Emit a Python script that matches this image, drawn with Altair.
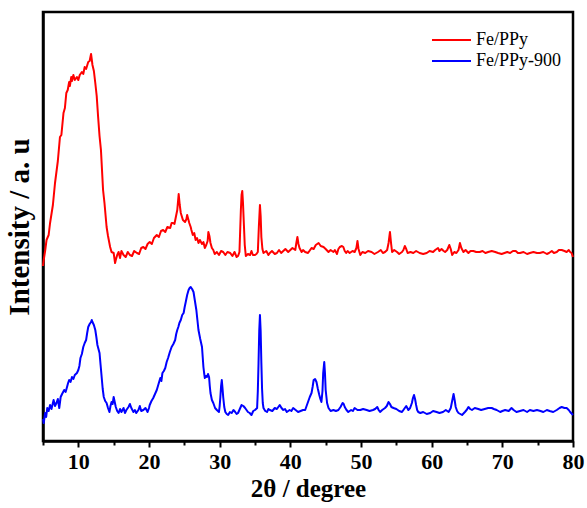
import altair as alt
import pandas as pd

# Digitised XRD patterns: (2theta in degree, intensity in arbitrary units)
fe_ppy = [
    (5.0,175),(5.1,181),(5.3,190),(5.5,201),(5.8,206),(6.0,218),(6.4,236),(6.7,258),(7.1,280),(7.4,304),
    (7.6,306),(7.9,328),(8.1,333),(8.3,348),(8.5,351),(8.7,359),(8.8,355),(9.0,364),(9.1,360),(9.3,366),
    (9.5,361),(9.8,364),(10.0,361),(10.2,366),(10.5,369),(10.7,367),(10.9,374),(11.1,372),(11.4,379),(11.6,380),
    (11.8,387),(12.0,376),(12.2,370),(12.4,358),(12.6,345),(12.8,324),(13.0,305),(13.2,291),(13.5,251),(13.7,238),
    (14.0,214),(14.2,205),(14.5,194),(14.7,189),(15.0,188),(15.2,178),(15.3,181),(15.5,186),(15.7,189),(15.9,183),
    (16.1,190),(16.4,186),(16.7,184),(17.0,189),(17.3,186),(17.6,185),(17.9,190),(18.3,188),(18.6,187),(18.9,193),
    (19.2,194),(19.5,192),(19.8,197),(20.1,199),(20.4,197),(20.7,203),(21.1,206),(21.4,204),(21.7,210),(22.0,211),
    (22.3,209),(22.6,214),(23.0,213),(23.2,218),(23.4,218),(23.6,217),(23.8,224),(24.0,231),(24.2,247),(24.35,236),
    (24.5,228),(24.8,221),(25.1,219),(25.3,222),(25.4,226),(25.55,222),(25.7,218),(25.9,214),(26.0,211),(26.2,206),
    (26.4,208),(26.6,201),(26.8,203),(27.0,198),(27.2,201),(27.5,197),(27.7,199),(27.9,193),(28.1,196),(28.3,200),
    (28.4,209),(28.55,205),(28.7,198),(28.9,193),(29.1,191),(29.3,187),(29.6,189),(29.9,186),(30.2,190),(30.5,189),
    (30.8,186),(31.1,189),(31.5,188),(31.8,185),(32.1,189),(32.4,184),(32.6,185),(32.8,189),(33.0,231),(33.1,246),
    (33.2,250),(33.3,238),(33.4,221),(33.55,196),(33.7,185),(34.0,187),(34.3,186),(34.5,190),(34.7,186),(35.0,186),
    (35.2,187),(35.4,189),(35.55,215),(35.7,236),(35.8,225),(35.9,204),(36.05,192),(36.2,188),(36.6,190),(36.9,186),
    (37.1,188),(37.4,190),(37.8,187),(38.1,188),(38.4,191),(38.7,188),(39.0,190),(39.3,192),(39.7,189),(40.0,191),
    (40.3,193),(40.7,191),(40.85,198),(41.0,204),(41.15,197),(41.3,193),(41.6,189),(41.8,191),(42.1,189),(42.5,188),
    (42.8,191),(43.0,193),(43.3,192),(43.6,196),(44.0,198),(44.3,195),(44.7,194),(45.0,192),(45.4,189),(45.7,191),
    (46.1,189),(46.3,191),(46.6,187),(46.8,192),(47.0,194),(47.3,195),(47.5,194),(47.7,190),(47.9,188),(48.1,190),
    (48.4,188),(48.8,190),(49.1,189),(49.35,193),(49.5,200),(49.65,192),(49.9,186),(50.2,189),(50.6,188),(51.0,190),
    (51.5,189),(51.9,187),(52.4,189),(52.8,191),(53.1,188),(53.4,189),(53.7,191),(53.9,198),(54.1,209),(54.25,198),
    (54.4,189),(54.7,191),(55.1,189),(55.4,187),(55.8,189),(56.0,191),(56.2,195),(56.4,192),(56.6,188),(57.0,189),
    (57.4,188),(57.8,190),(58.3,188),(58.8,187),(59.3,188),(59.7,190),(60.2,189),(60.5,191),(60.9,193),(61.1,190),
    (61.4,192),(61.7,190),(61.9,189),(62.2,191),(62.5,196),(62.7,192),(62.9,186),(63.2,189),(63.5,188),(63.8,191),
    (64.0,198),(64.2,193),(64.5,189),(64.8,191),(65.2,188),(65.5,190),(65.9,190),(66.3,189),(66.8,189),(67.2,190),
    (67.6,188),(68.0,189),(68.5,190),(69.0,189),(69.4,188),(69.9,187),(70.3,188),(70.7,189),(71.1,188),(71.5,190),
    (71.9,190),(72.2,188),(72.5,188),(73.0,189),(73.5,187),(73.9,188),(74.4,189),(74.9,188),(75.3,188),(75.8,189),
    (76.3,187),(76.6,188),(77.0,190),(77.3,188),(77.7,189),(78.0,191),(78.4,191),(78.8,190),(79.1,189),(79.4,191),
    (79.6,189),(79.8,188),(80.0,184),
]

fe_ppy_900 = [
    (5.0,22),(5.1,18),(5.3,28),(5.45,24),(5.6,33),(5.8,30),(6.0,36),(6.2,32),(6.5,41),(6.7,35),
    (6.9,38),(7.1,42),(7.3,33),(7.5,44),(7.7,47),(8.0,51),(8.2,49),(8.4,54),(8.55,58),(8.7,61),
    (8.9,59),(9.1,64),(9.3,62),(9.5,66),(9.8,68),(10.0,71),(10.15,75),(10.3,83),(10.5,87),(10.7,94),
    (10.9,98),(11.1,101),(11.25,108),(11.4,114),(11.6,117),(11.8,119),(11.9,121),(12.0,119),(12.2,116),(12.4,111),
    (12.55,104),(12.7,96),(12.85,92),(13.0,88),(13.15,76),(13.3,64),(13.45,52),(13.6,44),(13.8,40),(14.0,38),
    (14.2,33),(14.4,29),(14.55,35),(14.7,39),(14.85,37),(15.0,44),(15.15,39),(15.3,34),(15.5,30),(15.7,28),
    (15.9,32),(16.1,29),(16.4,33),(16.6,28),(16.8,31),(17.1,34),(17.3,37),(17.5,33),(17.8,29),(18.0,31),
    (18.2,28),(18.5,31),(18.7,35),(18.9,30),(19.2,31),(19.5,33),(19.8,29),(20.0,33),(20.1,36),(20.35,40),
    (20.6,43),(20.85,47),(21.1,51),(21.35,57),(21.6,63),(21.75,60),(21.9,68),(22.1,70),(22.3,73),(22.5,79),
    (22.7,83),(22.95,89),(23.2,94),(23.45,97),(23.7,101),(23.85,107),(24.0,111),(24.15,114),(24.3,118),(24.5,121),
    (24.7,126),(24.9,128),(25.05,134),(25.2,139),(25.4,146),(25.6,151),(25.75,153),(25.9,154),(26.1,152),(26.3,149),
    (26.5,140),(26.7,131),(26.85,121),(27.0,111),(27.25,102),(27.5,94),(27.6,84),(27.7,74),(27.8,68),(27.9,63),
    (28.05,65),(28.2,64),(28.35,67),(28.5,64),(28.6,55),(28.7,48),(28.9,41),(29.1,38),(29.35,33),(29.6,31),
    (29.75,30),(29.9,29),(30.0,35),(30.1,44),(30.2,55),(30.3,61),(30.4,53),(30.5,44),(30.65,34),(30.8,29),
    (31.0,27),(31.2,26),(31.45,29),(31.7,28),(31.95,31),(32.2,29),(32.4,27),(32.6,28),(32.85,32),(33.1,36),
    (33.35,35),(33.6,33),(33.8,31),(34.0,29),(34.25,28),(34.5,26),(34.75,30),(35.0,31),(35.15,32),(35.3,33),
    (35.4,50),(35.5,78),(35.6,110),(35.7,126),(35.8,110),(35.9,78),(36.0,52),(36.1,38),(36.2,33),(36.45,30),
    (36.7,29),(36.9,32),(37.1,31),(37.45,30),(37.8,33),(38.1,32),(38.3,34),(38.5,36),(38.75,33),(39.0,31),
    (39.25,32),(39.5,29),(39.9,31),(40.15,30),(40.4,33),(40.75,31),(41.1,29),(41.45,30),(41.8,31),(42.1,31),
    (42.3,35),(42.5,39),(42.75,44),(43.0,48),(43.15,54),(43.3,61),(43.5,62),(43.7,59),(43.9,52),(44.1,46),
    (44.25,42),(44.4,39),(44.55,50),(44.65,68),(44.8,79),(44.9,68),(45.0,51),(45.2,38),(45.4,33),(45.7,30),
    (46.1,31),(46.45,30),(46.8,31),(47.1,34),(47.4,38),(47.55,37),(47.7,34),(47.95,31),(48.2,29),(48.6,31),
    (48.85,30),(49.1,33),(49.5,31),(49.9,31),(50.3,32),(50.8,31),(51.2,30),(51.7,31),(52.0,32),(52.3,34),
    (52.5,31),(52.7,29),(53.0,31),(53.4,33),(53.65,35),(53.9,39),(54.1,37),(54.3,34),(54.6,33),(55.0,32),
    (55.4,30),(55.8,29),(56.1,32),(56.4,35),(56.55,33),(56.7,31),(56.95,33),(57.2,38),(57.35,43),(57.5,46),
    (57.65,42),(57.8,36),(57.95,31),(58.1,29),(58.4,28),(58.8,29),(59.3,27),(59.8,28),(60.2,30),(60.7,29),
    (61.1,28),(61.6,29),(62.0,31),(62.4,29),(62.7,33),(62.9,40),(63.1,47),(63.25,41),(63.4,34),(63.6,30),
    (63.8,28),(64.3,26),(64.7,29),(64.95,31),(65.2,34),(65.45,32),(65.7,31),(66.1,33),(66.6,32),(67.0,31),
    (67.5,32),(68.0,33),(68.5,33),(68.8,32),(69.2,31),(69.7,29),(70.0,30),(70.4,31),(70.9,30),(71.3,33),
    (71.6,31),(72.0,29),(72.5,30),(73.0,31),(73.5,29),(73.9,31),(74.4,30),(74.9,31),(75.4,30),(75.8,29),
    (76.3,31),(76.7,30),(77.2,29),(77.7,31),(78.1,33),(78.4,34),(78.8,33),(79.1,33),(79.4,31),(79.6,29),
    (80.0,26),
]

series_names = ["Fe/PPy", "Fe/PPy-900"]
series_colors = ["#ff0000", "#0000ff"]
x_ticks = list(range(5, 81, 5))

FONT = "Liberation Serif"

rows = []
for name, pts in zip(series_names, [fe_ppy, fe_ppy_900]):
    for t, v in pts:
        rows.append({"theta": t, "intensity": v, "sample": name})
df = pd.DataFrame(rows)

lines = alt.Chart(df).mark_line(strokeWidth=2, strokeJoin="round").encode(
    x=alt.X(
        "theta:Q",
        scale=alt.Scale(domain=[5, 80], nice=False, zero=False),
        axis=alt.Axis(
            values=x_ticks,
            labelExpr="datum.value % 10 === 0 ? datum.label : ''",
            tickSize={"condition": {"test": "datum.value % 10 === 0", "value": 6}, "value": 4},
            tickWidth=2,
            tickColor="black",
            domainColor="black",
            domainWidth=2.5,
            grid=False,
            labelFont=FONT,
            labelFontWeight="bold",
            labelFontSize=22,
            labelColor="black",
            labelPadding=4,
            labelFlush=False,
            title="2θ / degree",
            titleFont=FONT,
            titleFontWeight="bold",
            titleFontSize=25,
            titleColor="black",
            titlePadding=4,
        ),
    ),
    y=alt.Y(
        "intensity:Q",
        scale=alt.Scale(domain=[0, 429], nice=False, zero=False),
        axis=alt.Axis(
            labels=False,
            ticks=False,
            grid=False,
            domainColor="black",
            domainWidth=2.5,
            title="Intensity / a. u",
            titleFont=FONT,
            titleFontWeight="bold",
            titleFontSize=29,
            titleColor="black",
            titlePadding=9,
        ),
    ),
    color=alt.Color(
        "sample:N",
        scale=alt.Scale(domain=series_names, range=series_colors),
        legend=None,
    ),
    detail="sample:N",
)

layers = [lines]
legend_df = pd.DataFrame({"sample": series_names})
for i, (name, col) in enumerate(zip(series_names, series_colors)):
    ypos = 28 + 21 * i
    sub = legend_df[legend_df["sample"] == name]
    layers.append(
        alt.Chart(sub).mark_rule(color=col, strokeWidth=2).encode(
            x=alt.value(389), x2=alt.value(428), y=alt.value(ypos)
        )
    )
    layers.append(
        alt.Chart(sub).mark_text(
            align="left", baseline="middle", font=FONT, fontSize=18, color="black"
        ).encode(x=alt.value(433), y=alt.value(ypos), text="sample:N")
    )

chart = alt.layer(*layers).properties(
    width=530,
    height=429,
    autosize=alt.AutoSizeParams(type="none"),
    padding={"left": 43, "top": 12, "right": 14, "bottom": 67},
    background="white",
).configure_view(stroke="black", strokeWidth=2.5)

chart.save("out.html", embed_options={"renderer": "svg", "actions": False})
